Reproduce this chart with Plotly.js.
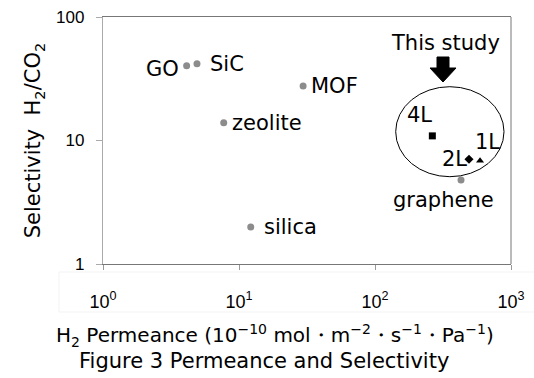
<!DOCTYPE html>
<html><head><meta charset="utf-8">
<script src="https://cdn.plot.ly/plotly-3.0.1.min.js"></script>
<style>html,body{margin:0;padding:0;background:#fff;}#chart{width:534px;height:378px;}</style>
</head><body><div id="chart"></div>
<script>
// Reference materials (gray points)
const refNames = ['GO', 'SiC', 'MOF', 'zeolite', 'silica', 'graphene'];
const refPermeance = [4.12, 4.91, 29.6, 7.72, 12.2, 429];
const refSelectivity = [40.3, 41.9, 27.6, 13.9, 1.99, 4.79];

// This study
const studyNames = ['4L', '2L', '1L'];
const studyPermeance = [264, 491, 592];
const studySelectivity = [10.9, 7.04, 6.86];
const studySymbols = ['square', 'diamond', 'triangle-up'];

// Axis ticks
const xTickVals = [1, 10, 100, 1000];
const xTickText = ['10<sup>0</sup>', '10<sup>1</sup>', '10<sup>2</sup>', '10<sup>3</sup>'];
const yTickVals = [1, 10, 100];
const yTickText = ['1', '10', '100'];

// Label placement styles (anchor, pixel offsets from the point)
const refLabelStyle = [
  {xanchor: 'right', dx: -6, dy: -3},
  {xanchor: 'left', dx: 11, dy: 0},
  {xanchor: 'left', dx: 6, dy: 0},
  {xanchor: 'left', dx: 6, dy: 0},
  {xanchor: 'left', dx: 11, dy: 0},
  {xanchor: 'center', dx: -18, dy: -20}
];
const studyLabelStyle = [
  {xanchor: 'center', dx: -13, dy: 21},
  {xanchor: 'center', dx: -14, dy: 0},
  {xanchor: 'center', dx: 7, dy: 19}
];

const FONT = 'DejaVu Sans, Verdana, sans-serif';
const TICKFONT = 'Liberation Sans, Arial, sans-serif';

const traces = [
  {
    x: refPermeance, y: refSelectivity, text: refNames,
    type: 'scatter', mode: 'markers',
    marker: {color: '#8c8c8c', size: 7},
    cliponaxis: false, hoverinfo: 'skip'
  },
  {
    x: studyPermeance, y: studySelectivity, text: studyNames,
    type: 'scatter', mode: 'markers',
    marker: {color: '#000', size: 7, symbol: studySymbols},
    cliponaxis: false, hoverinfo: 'skip'
  }
];

function labels(names, xs, ys, styles) {
  return names.map((n, i) => ({
    text: n, xref: 'x', yref: 'y',
    x: Math.log10(xs[i]), y: Math.log10(ys[i]),
    xanchor: styles[i].xanchor, yanchor: 'middle',
    xshift: styles[i].dx, yshift: styles[i].dy,
    showarrow: false, font: {family: FONT, size: 21, color: '#000'}
  }));
}

const px = v => (v - 103) / 408;
const py = v => (264 - v) / 247;

const layout = {
  width: 534, height: 378,
  margin: {l: 103, r: 23, t: 17, b: 114},
  paper_bgcolor: '#fff', plot_bgcolor: '#fff',
  showlegend: false,
  font: {family: FONT, color: '#000', size: 18},
  xaxis: {
    type: 'log', range: [0, 3],
    tickvals: xTickVals, ticktext: xTickText,
    ticks: 'outside', ticklen: 5, tickcolor: '#999',
    showgrid: false, zeroline: false,
    showline: true, linecolor: '#777', linewidth: 1, mirror: true,
    tickfont: {family: TICKFONT, size: 18, color: '#000'},
    ticklabelstandoff: 16
  },
  yaxis: {
    type: 'log', range: [0, 2],
    tickvals: yTickVals, ticktext: yTickText,
    ticks: 'outside', ticklen: 6, tickcolor: '#aaa',
    showgrid: false, zeroline: false,
    showline: true, linecolor: '#aaa', linewidth: 1.2, mirror: false,
    tickfont: {family: TICKFONT, size: 17, color: '#000'},
    ticklabelstandoff: 8,
    title: {text: 'Selectivity  H<sub>2</sub>/CO<sub>2</sub>', font: {family: FONT, size: 21, color: '#000'}, standoff: 9}
  },
  shapes: [
    // right border
    {type: 'line', xref: 'paper', yref: 'paper', x0: 1, x1: 1, y0: 0, y1: 1, line: {color: '#777', width: 1}},
    // ellipse around this study
    {type: 'circle', xref: 'paper', yref: 'paper', x0: px(395.7), x1: px(504), y0: py(176.7), y1: py(86.7), line: {color: '#000', width: 1}},
    // block arrow
    {type: 'path', xref: 'paper', yref: 'paper',
     path: 'M ' + px(437) + ',' + py(57) + ' L ' + px(449) + ',' + py(57) + ' L ' + px(449) + ',' + py(68) +
           ' L ' + px(456) + ',' + py(68) + ' L ' + px(443) + ',' + py(82) + ' L ' + px(430) + ',' + py(68) +
           ' L ' + px(437) + ',' + py(68) + ' Z',
     fillcolor: '#000', line: {color: '#000', width: 1}},
    // faint box around x tick labels
    {type: 'rect', xref: 'paper', yref: 'paper', x0: px(59), x1: px(545), y0: py(312), y1: py(272), line: {color: '#f3f3f3', width: 1}, layer: 'below'}
  ],
  annotations: [
    ...labels(refNames, refPermeance, refSelectivity, refLabelStyle),
    ...labels(studyNames, studyPermeance, studySelectivity, studyLabelStyle),
    {text: 'This study', xref: 'paper', yref: 'paper', x: px(445), y: py(43), showarrow: false,
     xanchor: 'center', yanchor: 'middle', font: {family: FONT, size: 21, color: '#000'}},
    {text: 'H<sub>2</sub> Permeance (10<sup>−10</sup> mol・m<sup>−2</sup>・s<sup>−1</sup>・Pa<sup>−1</sup>)',
     xref: 'paper', yref: 'paper', x: px(275), y: py(335), showarrow: false,
     xanchor: 'center', yanchor: 'middle', font: {family: FONT, size: 20, color: '#000'}},
    {text: 'Figure 3 Permeance and Selectivity', xref: 'paper', yref: 'paper', x: px(264), y: py(361), showarrow: false,
     xanchor: 'center', yanchor: 'middle', font: {family: FONT, size: 21, color: '#000'}}
  ]
};

Plotly.newPlot('chart', traces, layout, {staticPlot: true, displayModeBar: false});
</script></body></html>
